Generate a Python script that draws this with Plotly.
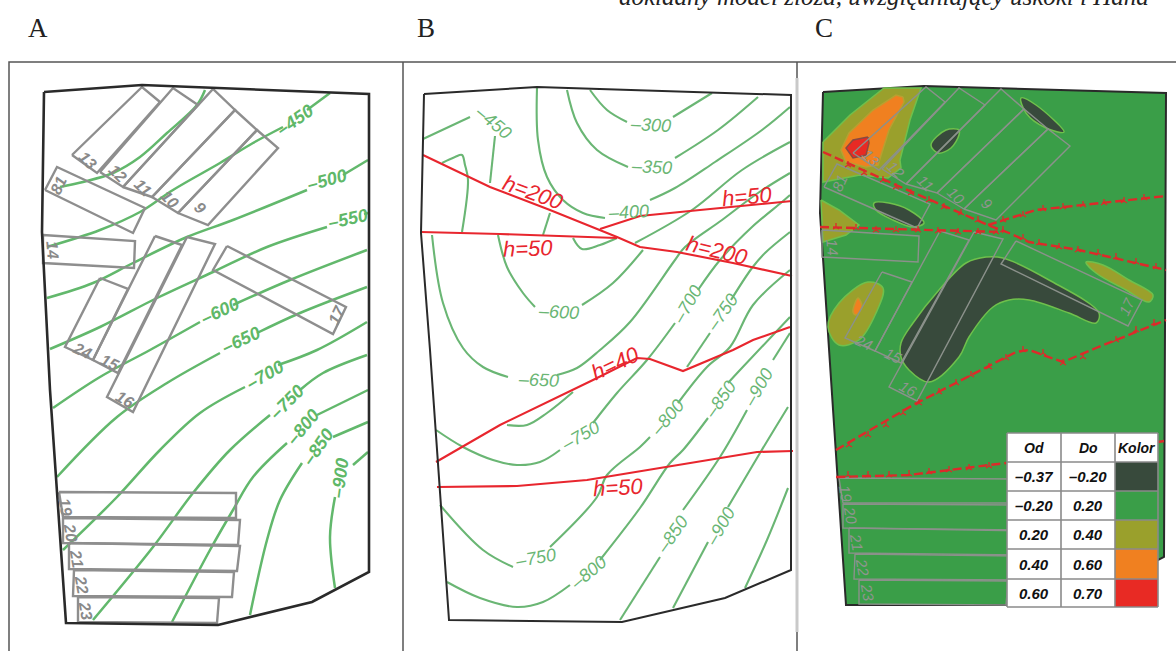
import plotly.graph_objects as go

FRAME_TOP = [(9, 651), (9, 62), (1176, 62)]
FRAME_DIV_1 = [(403, 62), (403, 651)]
FRAME_DIV_2_DARK = [(797, 62), (797, 78), None, (797, 632), (797, 651)]
FRAME_DIV_2_LIGHT = [(797, 78), (797, 632)]

OUTLINE_A = [(44, 92), (142, 85), (369, 94), (369, 572), (312, 602), (218, 625), (66, 623), (50, 390), (42, 232), (44, 92)]
OUTLINE_B = [(424, 94), (537, 87), (791, 95), (791, 570), (725, 598), (622, 622), (449, 620), (430, 350), (421, 233), (424, 94)]
OUTLINE_C = [(823, 92), (924, 86), (1166, 93), (1164, 557), (1100, 590), (1006, 605), (846, 605), (829, 350), (820, 213), (823, 92)]

CONTOURS_A = [
    [(205, 90), (197, 105), (167, 133), (140, 157), (113, 173), (83, 182), (60, 187)],
    [(330, 93), (307, 110)],
    [(283, 127), (253, 143), (220, 163), (173, 190), (140, 212), (100, 230), (47, 247)],
    [(368, 160), (343, 175)],
    [(307, 190), (233, 220), (187, 237), (133, 263), (93, 283), (47, 298)],
    [(368, 213), (364, 214)],
    [(327, 227), (267, 247), (213, 272), (157, 298), (100, 327), (50, 349)],
    [(367, 250), (290, 280), (233, 305)],
    [(200, 322), (150, 350), (100, 377), (53, 408)],
    [(367, 287), (300, 313), (257, 333)],
    [(220, 353), (167, 383), (117, 417), (57, 477)],
    [(367, 322), (317, 350), (278, 365)],
    [(245, 387), (200, 413), (160, 450), (117, 497), (63, 550)],
    [(367, 355), (323, 373), (300, 390)],
    [(270, 415), (230, 450), (193, 493), (153, 547), (93, 620)],
    [(368, 390), (317, 415)],
    [(287, 443), (253, 477), (233, 510), (210, 550), (172, 622)],
    [(368, 422), (333, 437)],
    [(302, 463), (280, 500), (267, 540), (250, 615)],
    [(368, 452), (353, 465)],
    [(335, 497), (330, 537), (335, 588)],
]
CONTOUR_LABELS_A = [
    ("–450", 295, 120, -35), ("–500", 327, 180, -15), ("–550", 348, 219, -12),
    ("–600", 220, 311, -25), ("–650", 241, 340, -25), ("–700", 265, 375, -30),
    ("–750", 287, 402, -45), ("–800", 303, 427, -50), ("–850", 318, 447, -55),
    ("–900", 340, 478, -82),
]

CONTOURS_B = [
    [(590, 90), (607, 110), (627, 122)],
    [(673, 117), (712, 93)],
    [(567, 90), (577, 123), (597, 150), (628, 167)],
    [(675, 158), (718, 130), (758, 97)],
    [(537, 88), (538, 140), (547, 177), (563, 200), (583, 213), (605, 218)],
    [(650, 200), (675, 188), (715, 162), (762, 130), (790, 107)],
    [(423, 139), (470, 117)],
    [(495, 136), (490, 183)],
    [(442, 163), (455, 157), (462, 155), (465, 165), (468, 180), (462, 232)],
    [(550, 213), (543, 235)],
    [(498, 235), (507, 267), (523, 293), (535, 307)],
    [(582, 305), (613, 283), (643, 250)],
    [(573, 238), (582, 249), (600, 245), (617, 238)],
    [(635, 243), (692, 210), (742, 170), (790, 142)],
    [(432, 235), (443, 303), (463, 348), (483, 367), (508, 377)],
    [(557, 375), (577, 368), (600, 350), (630, 322), (675, 260), (685, 247), (722, 220), (758, 193), (790, 173)],
    [(573, 392), (547, 413), (527, 425), (507, 425)],
    [(436, 430), (463, 447), (493, 460), (517, 465), (540, 462), (560, 450)],
    [(593, 423), (617, 393), (647, 360), (675, 323)],
    [(698, 290), (720, 260), (752, 227), (782, 202), (790, 195)],
    [(710, 333), (687, 367)],
    [(731, 300), (752, 268), (765, 253), (790, 232)],
    [(790, 270), (753, 305), (730, 347), (707, 367), (678, 403)],
    [(650, 437), (640, 447), (607, 475), (597, 497), (550, 547)],
    [(513, 567), (483, 550), (440, 505)],
    [(790, 317), (740, 370), (728, 383)],
    [(708, 418), (683, 450), (670, 463), (640, 508), (600, 560)],
    [(570, 585), (543, 602), (517, 607), (480, 598), (447, 582)],
    [(790, 333), (773, 360)],
    [(747, 410), (720, 457), (683, 510)],
    [(660, 557), (620, 620)],
    [(788, 407), (760, 453), (728, 507)],
    [(708, 542), (673, 608)],
    [(788, 488), (767, 540), (745, 588)],
]
CONTOUR_LABELS_B = [
    ("–300", 650, 125, 3), ("–350", 651, 167, 3), ("–400", 628, 212, -3), ("–450", 493, 122, 40),
    ("–600", 558, 312, 3), ("–650", 538, 380, 2), ("–700", 687, 305, -60), ("–750", 722, 313, -55),
    ("–750", 580, 436, -30), ("–750", 535, 558, -10), ("–800", 667, 418, -50), ("–800", 588, 573, -40),
    ("–850", 720, 400, -55), ("–850", 672, 535, -55), ("–900", 758, 388, -60), ("–900", 720, 527, -60),
]

FAULTS_B = [
    [(423, 155), (490, 187), (550, 210), (600, 230), (617, 237), (640, 247), (677, 252), (733, 263), (792, 276)],
    [(421, 232), (500, 234), (617, 238)],
    [(600, 229), (640, 216), (700, 210), (792, 201)],
    [(436, 462), (500, 425), (593, 380), (637, 358), (650, 359), (683, 371), (733, 350), (753, 340), (790, 327)],
    [(437, 487), (517, 486), (587, 480), (667, 467), (757, 452), (793, 451)],
]
FAULT_LABELS_B = [
    ("h=200", 533, 192, 20), ("h=50", 528, 248, -2), ("h=50", 747, 196, -5),
    ("h=200", 717, 250, 14), ("h=40", 615, 363, -25), ("h=50", 618, 487, -3),
]

FAULTS_C = [
    [(823, 152), (896, 185), (988, 225), (1009, 233), (1029, 242), (1079, 250), (1166, 270)],
    [(820, 227), (896, 229), (1003, 232)],
    [(988, 225), (1036, 210), (1166, 196)],
    [(836, 450), (913, 405), (1016, 352), (1029, 350), (1063, 362), (1096, 348), (1166, 320)],
    [(836, 477), (909, 475), (1006, 463)],
    [(1158, 442), (1164, 441)],
]
FAULT_TICKS_C = [
    (848, 165), (864, 173), (883, 180), (896, 187), (911, 193), (929, 200), (944, 207), (961, 213), (978, 220),
    (1003, 230), (1023, 238), (1039, 243), (1059, 247), (1078, 250), (1098, 253), (1116, 257), (1136, 262), (1156, 267),
    (836, 227), (856, 228), (876, 230), (896, 230), (918, 230), (938, 231), (958, 232), (978, 232), (996, 232),
    (1003, 220), (1023, 215), (1043, 209), (1063, 207), (1083, 205), (1104, 203), (1124, 201), (1144, 198),
    (849, 445), (868, 435), (886, 425), (903, 413), (919, 403), (939, 392), (956, 383), (971, 375), (989, 367),
    (1006, 358), (1023, 350), (1043, 353), (1063, 363), (1083, 357), (1116, 340), (1136, 330), (1154, 323),
    (848, 475), (868, 475), (889, 475), (909, 474), (929, 472), (949, 470), (969, 468), (989, 466),
]

RECTS_A = [
    [(72, 155), (142, 87), (160, 102), (97, 173)],
    [(100, 172), (173, 88), (198, 105), (123, 187)],
    [(123, 187), (213, 89), (235, 110), (152, 197)],
    [(152, 197), (235, 110), (257, 130), (178, 213)],
    [(178, 213), (257, 130), (278, 148), (208, 225)],
    [(45, 190), (57, 167), (145, 208), (133, 233)],
    [(43, 235), (135, 241), (134, 268), (43, 263)],
    [(227, 246), (346, 307), (333, 334), (213, 270)],
    [(187, 237), (215, 244), (133, 412), (107, 397)],
    [(155, 236), (182, 245), (118, 373), (93, 360)],
    [(100, 278), (128, 289), (93, 360), (65, 347)],
    [(59, 492), (236, 493), (236, 518), (63, 517)],
    [(63, 518), (240, 520), (238, 545), (63, 543)],
    [(69, 543), (240, 546), (237, 571), (69, 569)],
    [(74, 570), (234, 572), (232, 597), (73, 596)],
    [(78, 597), (219, 598), (217, 623), (78, 622)],
]
RECT_LABELS_A = [
    ("13", 88, 160, 45), ("12", 118, 173, 45), ("11", 143, 187, 45), ("10", 170, 199, 45), ("9", 200, 207, 45),
    ("81", 58, 185, -65), ("14", 53, 250, 85), ("17", 336, 315, -65), ("16", 125, 399, 30), ("15", 110, 362, 25),
    ("24", 82, 350, 25), ("19", 66, 507, 80), ("20", 71, 532, 80), ("21", 77, 558, 80), ("22", 82, 584, 80), ("23", 86, 610, 80),
]

RECTS_C = [
    [(853, 153), (926, 87), (945, 102), (879, 170)],
    [(882, 169), (959, 88), (985, 105), (906, 184)],
    [(906, 184), (1001, 89), (1024, 109), (937, 193)],
    [(937, 193), (1024, 109), (1048, 129), (964, 209)],
    [(964, 209), (1048, 129), (1070, 146), (996, 220)],
    [(824, 187), (837, 164), (930, 204), (917, 228)],
    [(822, 230), (919, 236), (918, 262), (822, 257)],
    [(1016, 241), (1142, 300), (1128, 326), (1001, 264)],
    [(974, 232), (1003, 239), (917, 401), (889, 387)],
    [(940, 231), (969, 240), (901, 363), (875, 351)],
    [(882, 272), (912, 282), (875, 351), (845, 338)],
    [(839, 478), (1026, 479), (1026, 503), (843, 503)],
    [(843, 504), (1030, 505), (1028, 530), (843, 528)],
    [(849, 528), (1030, 531), (1027, 555), (849, 553)],
    [(855, 554), (1023, 556), (1021, 580), (854, 579)],
    [(859, 580), (1008, 581), (1006, 605), (859, 604)],
]
RECT_LABELS_C = [
    ("13", 871, 157, 45), ("12", 896, 169, 45), ("11", 926, 183, 45), ("10", 956, 195, 45), ("9", 987, 203, 45),
    ("81", 839, 183, -65), ("14", 833, 247, 85), ("17", 1126, 307, -65), ("16", 908, 388, 30), ("15", 893, 355, 25),
    ("24", 864, 342, 25), ("19", 846, 493, 80), ("20", 851, 515, 80), ("21", 857, 542, 80), ("22", 863, 567, 80), ("23", 868, 592, 80),
]

BLOBS_OLIVE_ANGULAR = [
    [(823, 142), (850, 115), (884, 88), (921, 88), (910, 120), (900, 160), (901, 168), (888, 178), (860, 175), (823, 182), (823, 142)],
    [(821, 200), (839, 210), (859, 225), (846, 235), (823, 242), (821, 200)],
]
BLOBS_OLIVE = [
    [(1086, 262), (1103, 265), (1129, 280), (1153, 295), (1149, 302), (1126, 290), (1096, 273), (1086, 262)],
    [(868, 282), (883, 288), (876, 313), (859, 340), (839, 345), (828, 327), (839, 303), (868, 282)],
]
BLOBS_ORANGE_ANGULAR = [
    [(903, 97), (896, 95), (873, 110), (849, 133), (841, 150), (846, 162), (866, 167), (878, 165), (889, 130), (904, 102), (903, 97)],
]
BLOBS_ORANGE = [
    [(858, 298), (862, 307), (856, 315), (853, 312), (858, 298)],
]
BLOBS_RED = [
    [(868, 137), (853, 140), (846, 148), (853, 158), (866, 155), (869, 143), (868, 137)],
]
BLOBS_DARK = [
    [(1021, 98), (1036, 105), (1064, 132), (1046, 128), (1026, 113), (1021, 98)],
    [(959, 130), (946, 130), (931, 145), (938, 153), (951, 148), (959, 135), (959, 130)],
    [(874, 203), (889, 203), (909, 210), (924, 223), (913, 227), (893, 220), (876, 210), (874, 203)],
    [(986, 257), (1003, 258), (1049, 280), (1099, 313), (1096, 323), (1069, 313), (1029, 300), (1009, 300), (993, 307),
     (969, 337), (959, 357), (929, 382), (909, 370), (901, 357), (901, 343), (913, 323), (939, 290), (966, 263), (986, 257)],
]

PANEL_LETTERS = [("A", 38, 28), ("B", 426, 28), ("C", 824, 28)]
HEADER_TEXT = "dokładny model złoża, uwzględniający uskoki i Hand"

LEGEND_COL_EDGES = [1007, 1061, 1115, 1158]
LEGEND_ROW_EDGES = [433, 462, 491, 520, 549, 579, 607]
LEGEND_HEADERS = ["Od", "Do", "Kolor"]
LEGEND_FROM = ["–0.37", "–0.20", "0.20", "0.40", "0.60"]
LEGEND_TO = ["–0.20", "0.20", "0.40", "0.60", "0.70"]
LEGEND_COLORS = ["#384a3c", "#3a9e48", "#9aa02c", "#f08020", "#e82a24"]

GREEN = "#62b86c"
GREEN_B = "#6ab674"
RED = "#e8262e"
GRAY = "#8e8e8e"
BLACK = "#2a2a2a"
NARROW = "Liberation Sans Narrow, Liberation Sans, sans-serif"
SERIF = "Liberation Serif, serif"

fig = go.Figure()


def flat(segments):
    xs, ys = [], []
    for seg in segments:
        for p in seg:
            if p is None:
                xs.append(None)
                ys.append(None)
            else:
                xs.append(p[0])
                ys.append(p[1])
        xs.append(None)
        ys.append(None)
    return xs, ys


def lines(segments, color, width, shape="linear", dash=None):
    x, y = flat(segments)
    fig.add_trace(go.Scatter(x=x, y=y, mode="lines", hoverinfo="skip",
                             line=dict(color=color, width=width, shape=shape, dash=dash)))


def blobs(shapes, fill, edge, shape="spline"):
    for s in shapes:
        x, y = flat([s])
        fig.add_trace(go.Scatter(x=x[:-1], y=y[:-1], mode="lines", fill="toself", fillcolor=fill, hoverinfo="skip",
                                 line=dict(color=edge, width=1.5, shape=shape)))


def closed(rects):
    return [r + [r[0]] for r in rects]


# frames
lines([FRAME_DIV_2_LIGHT], "#c9c9c9", 3)
lines([FRAME_TOP, FRAME_DIV_1], "#555555", 1.5)
lines([FRAME_DIV_2_DARK], "#555555", 1.5)

# Panel A
lines(CONTOURS_A, GREEN, 2.5, "spline")
lines(closed(RECTS_A), GRAY, 2.4)
lines([OUTLINE_A], BLACK, 2.6)

# Panel B
lines(CONTOURS_B, GREEN_B, 2.1, "spline")
lines(FAULTS_B, RED, 2.1)
lines([OUTLINE_B], BLACK, 2)

# Panel C
fig.add_trace(go.Scatter(x=[p[0] for p in OUTLINE_C], y=[p[1] for p in OUTLINE_C], mode="lines", fill="toself",
                         fillcolor=LEGEND_COLORS[1], hoverinfo="skip", line=dict(color=BLACK, width=2)))
blobs(BLOBS_OLIVE_ANGULAR, LEGEND_COLORS[2], "#6fc04c", "linear")
blobs(BLOBS_OLIVE, LEGEND_COLORS[2], "#6fc04c")
blobs(BLOBS_ORANGE_ANGULAR, LEGEND_COLORS[3], "#b8a030", "linear")
blobs(BLOBS_ORANGE, LEGEND_COLORS[3], "#b8a030")
blobs(BLOBS_RED, LEGEND_COLORS[4], "#8a4a40", "linear")
blobs(BLOBS_DARK, LEGEND_COLORS[0], "#6fc04c")
lines(closed(RECTS_C), "#8b918b", 1.4)
lines(FAULTS_C, "#dd2a2a", 2.4, dash="9px,4px")
fig.add_trace(go.Scatter(x=[p[0] for p in FAULT_TICKS_C], y=[p[1] for p in FAULT_TICKS_C], mode="markers", hoverinfo="skip",
                         marker=dict(symbol="y-up", size=5, color="#dd2a2a", line=dict(color="#dd2a2a", width=1.3))))

annotations = []


def label(text, x, y, angle, color, size, family=NARROW, italic=True, bold=False):
    t = "<i>%s</i>" % text if italic else text
    if bold:
        t = "<b>%s</b>" % t
    annotations.append(dict(x=x, y=y, text=t, textangle=angle, showarrow=False, xanchor="center", yanchor="middle",
                            font=dict(family=family, size=size, color=color)))


for t, x, y, a in CONTOUR_LABELS_A:
    label(t, x, y, a, "#5fb868", 18, bold=True)
for t, x, y, a in CONTOUR_LABELS_B:
    label(t, x, y, a, "#6ab674", 18)
for t, x, y, a in FAULT_LABELS_B:
    label(t, x, y, a, RED, 22)
for t, x, y, a in RECT_LABELS_A:
    label(t, x, y, a, "#8a8a8a", 16, bold=True)
for t, x, y, a in RECT_LABELS_C:
    label(t, x, y, a, "#8f958f", 15)
for t, x, y in PANEL_LETTERS:
    label(t, x, y, 0, "#222222", 27, family=SERIF, italic=False)
annotations.append(dict(x=617, y=1, yshift=5, text="<i>%s</i>" % HEADER_TEXT, showarrow=False, xanchor="left", yanchor="middle",
                        font=dict(family=SERIF, size=25, color="#222222")))

# Legend table
shapes = []
c = LEGEND_COL_EDGES
r = LEGEND_ROW_EDGES
shapes.append(dict(type="rect", x0=c[0], x1=c[3], y0=r[0], y1=r[6], fillcolor="white", line=dict(width=0), layer="above"))
for i, col in enumerate(LEGEND_COLORS):
    shapes.append(dict(type="rect", x0=c[2], x1=c[3], y0=r[i + 1], y1=r[i + 2], fillcolor=col, line=dict(width=0), layer="above"))
for e in c:
    shapes.append(dict(type="line", x0=e, x1=e, y0=r[0], y1=r[6], line=dict(color="#8a8a8a", width=1.6), layer="above"))
for e in r:
    shapes.append(dict(type="line", x0=c[0], x1=c[3], y0=e, y1=e, line=dict(color="#8a8a8a", width=1.6), layer="above"))
for j, t in enumerate(LEGEND_HEADERS):
    label(t, (c[j] + c[j + 1]) / 2, (r[0] + r[1]) / 2, 0, "#111111", 14, bold=True)
for i in range(5):
    label(LEGEND_FROM[i], (c[0] + c[1]) / 2, (r[i + 1] + r[i + 2]) / 2, 0, "#111111", 15, bold=True)
    label(LEGEND_TO[i], (c[1] + c[2]) / 2, (r[i + 1] + r[i + 2]) / 2, 0, "#111111", 15, bold=True)

fig.update_layout(
    width=1176, height=651, margin=dict(l=0, r=0, t=0, b=0), showlegend=False,
    paper_bgcolor="white", plot_bgcolor="white", shapes=shapes, annotations=annotations,
    xaxis=dict(range=[0, 1176], visible=False, fixedrange=True),
    yaxis=dict(range=[651, 0], visible=False, fixedrange=True),
)
fig.write_html("out.html", config={"displayModeBar": False},
               post_script="document.body.style.margin='0';document.body.style.overflow='hidden';")
